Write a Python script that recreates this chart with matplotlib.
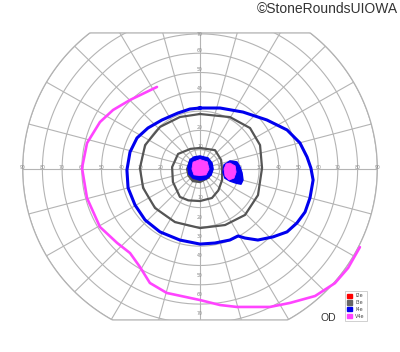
import numpy as np
import matplotlib
matplotlib.use("Agg")
import matplotlib.pyplot as plt
from matplotlib.patches import Polygon, Patch

# ---------------- data (visual field, degrees) ----------------
# V4e isopter (open curve): meridian angle (deg), eccentricity (deg)
v4e_ang = [117.2, 134.8, 145.3, 154.4, 166.8, 179.5, 194.7, 210.6, 222.3, 230.8,
           239.0, 246.7, 255.3, 270.0, 278.2, 284.7, 296.4, 303.4, 311.6, 319.2,
           325.7, 333.5]
v4e_ecc = [47.8, 50.4, 53.7, 56.3, 58.9, 59.9, 59.3, 59.0, 56.9, 56.2,
           59.2, 64.3, 66.4, 67.9, 71.2, 73.9, 79.8, 83.1, 88.0, 90.5,
           91.0, 90.7]

# I4e isopter (closed)
i4e_ang = [90.0, 72.1, 53.5, 36.8, 24.6, 14.9, 6.5, 0.5, 354.3, 345.0, 337.3,
           330.4, 323.6, 316.5, 308.6, 302.5, 299.1, 292.4, 281.2, 270.0, 254.5,
           238.1, 223.4, 209.5, 195.0, 180.8, 166.1, 153.3, 141.2, 127.2, 111.1,
           99.3]
i4e_ecc = [31.6, 33.2, 36.7, 42.4, 48.6, 52.5, 54.7, 56.3, 57.7, 57.8, 57.8,
           56.6, 54.9, 51.1, 47.1, 42.4, 39.7, 39.8, 39.1, 38.9, 38.2,
           38.4, 38.4, 37.9, 37.8, 37.1, 36.6, 35.8, 33.9, 31.9, 31.1,
           31.5]

# I3e isopter, outer ring (closed)
i3e_out_ang = [90.0, 60.5, 39.9, 22.1, 0.9, 335.3, 313.8, 293.7, 270.0, 245.2,
               221.5, 198.7, 179.1, 156.0, 132.9, 110.8]
i3e_out_ecc = [28.5, 30.9, 33.1, 32.9, 31.5, 32.4, 33.0, 31.7, 30.6, 30.3,
               30.5, 30.5, 30.5, 30.5, 29.8, 28.8]

# I3e isopter, inner ring (closed)
i3e_ang = [90.0, 52.0, 23.7, 0.0, 333.0, 310.0, 292.0, 270.0, 250.0, 234.9,
           206.0, 176.0, 145.0, 115.0]
i3e_ecc = [10.9, 12.4, 11.7, 11.2, 12.6, 14.5, 16.2, 16.6, 17.3, 17.7,
           15.3, 14.2, 13.6, 11.5]

# central scotoma outlines
c_gray_ang = [90, 45, 0, 315, 270, 240, 210, 180, 135]
c_gray_ecc = [6.5, 6.5, 6.3, 6.5, 7.0, 7.5, 7.0, 6.8, 7.0]
c_blue_ang = [90, 54, 27, 0, 331, 300, 270, 233, 205, 171, 137, 116]
c_blue_ecc = [6.7, 7.0, 6.8, 6.6, 6.4, 6.0, 5.7, 5.9, 6.2, 6.2, 6.9, 6.9]
c_mag_ang = [90, 45, 0, 315, 270, 225, 180, 135]
c_mag_ecc = [4.9, 5.2, 4.6, 4.3, 3.4, 4.3, 4.1, 5.0]

# blind spot outlines
bs_blue_ang = [15.2, 10.9, 2.9, 354.4, 345.3, 339.4, 338.3, 337.8, 339.7, 352.2, 9.8]
bs_blue_ecc = [15.8, 19.1, 20.3, 21.4, 22.5, 22.2, 19.7, 16.4, 13.5, 11.8, 12.4]
bs_mag_ang = [11.5, 5.1, 355.0, 344.8, 338.8, 344.2, 0.0, 11.1]
bs_mag_ecc = [15.5, 17.9, 18.4, 17.9, 15.8, 13.2, 12.2, 13.5]

legend_labels = ["I2e", "I3e", "I4e", "V4e"]
legend_colors = ["#ff0000", "#666666", "#0000ee", "#ff44ff"]

ring_values = [10, 20, 30, 40, 50, 60, 70, 80, 90]
spoke_angles = list(range(0, 360, 15))
top_limit, bottom_limit = 70.5, -78.2

# ---------------- figure ----------------
fig = plt.figure(figsize=(4.0, 3.52), dpi=100)
ax = fig.add_axes([0, 0, 1, 1])
sx, sy = 1.97, 1.93
ax.set_xlim(-200 / sx, 200 / sx)
ax.set_ylim(-(352 - 169) / sy, 169 / sy)
ax.axis("off")


def xy(ang, ecc):
    a = np.radians(np.asarray(ang, float))
    e = np.asarray(ecc, float)
    return e * np.cos(a), e * np.sin(a)

# clip region: circle of 90 deg cut at top/bottom
t = np.linspace(0, 2 * np.pi, 721)
bx = 90 * np.cos(t)
by = np.clip(90 * np.sin(t), bottom_limit, top_limit)
clip = Polygon(np.column_stack([bx, by]), closed=True, facecolor="none",
               edgecolor="#b0b0b0", lw=0.9, zorder=1)
ax.add_patch(clip)

grid_kw = dict(color="#b4b4b4", lw=0.8, zorder=1)
for r in ring_values:
    ln, = ax.plot(r * np.cos(t), r * np.sin(t), **grid_kw)
    ln.set_clip_path(clip)
for a in spoke_angles:
    x, y = xy([a, a], [0, 95])
    ln, = ax.plot(x, y, **grid_kw)
    ln.set_clip_path(clip)

lab_kw = dict(fontsize=3.3, color="#8a8a8a", ha="center", va="center", zorder=2)
for r in ring_values:
    ax.text(r, 0.6, str(r), **lab_kw)
    ax.text(-r, 0.6, str(r), **lab_kw)
for r in ring_values[:7]:
    ax.text(0, min(r + 1.5, 69.5), str(r), **lab_kw)
    ax.text(0, -(r + 5), str(r), **lab_kw)

# isopters
x, y = xy(v4e_ang, v4e_ecc)
ax.plot(x, y, color="#ff44ff", lw=1.9, solid_capstyle="round", zorder=4)

x, y = xy(i4e_ang + i4e_ang[:1], i4e_ecc + i4e_ecc[:1])
ax.plot(x, y, color="#0000ee", lw=2.2, solid_joinstyle="round", zorder=5)

for ang, ecc in [(i3e_out_ang, i3e_out_ecc), (i3e_ang, i3e_ecc)]:
    x, y = xy(ang + ang[:1], ecc + ecc[:1])
    ax.plot(x, y, color="#555555", lw=1.6, solid_joinstyle="round", zorder=5)

# central and blind spot areas
x, y = xy(c_gray_ang, c_gray_ecc)
ax.add_patch(Polygon(np.column_stack([x, y]), closed=True, facecolor="#555555",
                     edgecolor="#555555", lw=1.0, zorder=6))
for ang, ecc in [(c_blue_ang, c_blue_ecc), (bs_blue_ang, bs_blue_ecc)]:
    x, y = xy(ang, ecc)
    ax.add_patch(Polygon(np.column_stack([x, y]), closed=True, facecolor="#0000ee",
                         edgecolor="#0000ee", lw=1.2, joinstyle="round", zorder=7))
for ang, ecc in [(c_mag_ang, c_mag_ecc), (bs_mag_ang, bs_mag_ecc)]:
    x, y = xy(ang, ecc)
    ax.add_patch(Polygon(np.column_stack([x, y]), closed=True, facecolor="#ff44ff",
                         edgecolor="#ff44ff", lw=0.6, joinstyle="round", zorder=8))

# legend
handles = [Patch(facecolor=c, edgecolor=c) for c in legend_colors]
leg = fig.legend(handles, legend_labels, loc="upper left",
                 bbox_to_anchor=(345 / 400, 1 - 291 / 352), fontsize=3.5,
                 handlelength=1.0, handleheight=1.0, handletextpad=0.6,
                 borderpad=0.5, labelspacing=0.35, frameon=True, fancybox=False,
                 edgecolor="#bbbbbb", borderaxespad=0)
leg.get_frame().set_linewidth(0.6)
for txt in leg.get_texts():
    txt.set_color("#444444")

fig.text(328 / 400, 1 - 318 / 352, "OD", fontsize=7.5, color="#333333",
         ha="center", va="center", family="Liberation Sans")
fig.text(398 / 400, 1 - 9 / 352, "\u00a9StoneRoundsUIOWA", fontsize=10,
         color="#333333", ha="right", va="center", family="Liberation Sans")

fig.savefig("out.png", dpi=100, facecolor="white")
